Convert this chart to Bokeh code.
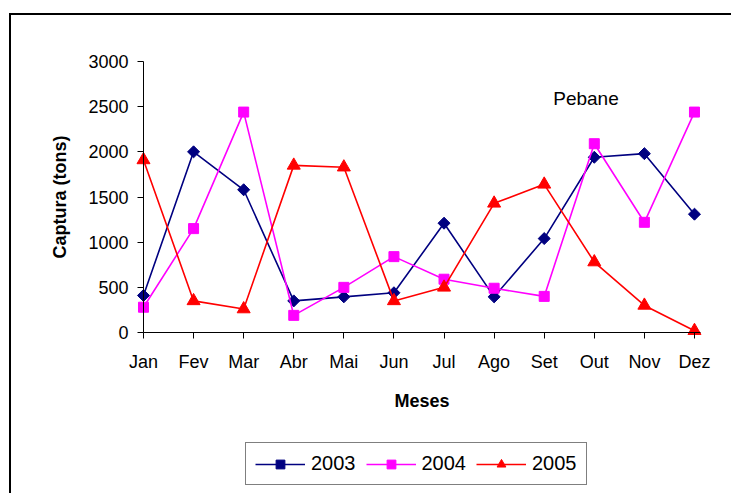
import numpy as np
from bokeh.plotting import figure
from bokeh.models import Range1d, FixedTicker, Legend, LegendItem, Label
from bokeh.embed import file_html
from bokeh.resources import INLINE

months = ["Jan", "Fev", "Mar", "Abr", "Mai", "Jun", "Jul", "Ago", "Set", "Out", "Nov", "Dez"]
y2003 = [410, 2000, 1580, 350, 395, 440, 1210, 395, 1040, 1940, 1980, 1310]
y2004 = [280, 1150, 2440, 190, 500, 840, 590, 490, 400, 2090, 1220, 2440]
y2005 = [1910, 350, 260, 1850, 1830, 350, 500, 1430, 1640, 780, 300, 20]
y_ticks = [0, 500, 1000, 1500, 2000, 2500, 3000]
series_labels = ["2003", "2004", "2005"]
site_name = "Pebane"
x_title = "Meses"
y_title = "Captura (tons)"

FONT = "Liberation Sans"
x = list(range(len(months)))

p = figure(width=722, height=480, output_backend="svg", toolbar_location=None,
           x_range=Range1d(-2.635, 11.779), y_range=Range1d(-1804, 3509),
           min_border_left=0, min_border_right=0, min_border_top=0, min_border_bottom=0,
           styles={"margin-left": "9px", "margin-top": "13px",
                   "border-left": "2px solid #000", "border-top": "2px solid #000"})
p.outline_line_color = None
p.grid.grid_line_color = None
p.background_fill_color = "white"
p.border_fill_color = "white"

p.xaxis.ticker = FixedTicker(ticks=x)
p.xaxis.major_label_overrides = {i: m for i, m in enumerate(months)}
p.xaxis.fixed_location = 0
p.xaxis.bounds = (0, 11.12)
p.yaxis.ticker = FixedTicker(ticks=y_ticks)
p.yaxis.fixed_location = 0
p.yaxis.bounds = (0, 3000)
for ax in (p.xaxis, p.yaxis):
    ax.axis_line_color = "black"
    ax.major_tick_line_color = "black"
    ax.minor_tick_line_color = None
    ax.major_tick_out = 6
    ax.major_tick_in = 0
    ax.major_label_text_font = FONT
    ax.major_label_text_font_size = "18px"
    ax.major_label_text_color = "black"
p.yaxis.major_label_standoff = 9
p.xaxis.major_label_standoff = 13

l1 = p.line(x, y2003, line_color="#000080", line_width=1.6)
m1 = p.scatter(x, y2003, marker="square", angle=np.pi / 4, size=8.5,
               fill_color="#000080", line_color="#000080")
l2 = p.line(x, y2004, line_color="#FF00FF", line_width=1.6)
m2 = p.scatter(x, y2004, marker="square", size=10,
               fill_color="#FF00FF", line_color="#FF00FF")
l3 = p.line(x, y2005, line_color="#FF0000", line_width=1.6)
m3 = p.scatter(x, y2005, marker="triangle", size=13,
               fill_color="#FF0000", line_color="#FF0000")

legend = Legend(items=[LegendItem(label=series_labels[0], renderers=[l1, m1]),
                       LegendItem(label=series_labels[1], renderers=[l2, m2]),
                       LegendItem(label=series_labels[2], renderers=[l3, m3])],
                orientation="horizontal", location=(234, 10),
                border_line_color="black", border_line_width=1,
                background_fill_color="white", background_fill_alpha=1,
                label_text_font=FONT, label_text_font_size="20px", label_text_color="black",
                glyph_width=50, glyph_height=22, label_standoff=6, spacing=10,
                padding=9, margin=0)
p.add_layout(legend, "center")

p.add_layout(Label(x=8.18, y=2590, text=site_name, text_font=FONT,
                   text_font_size="19px", text_color="black", text_baseline="alphabetic"))
p.add_layout(Label(x=5.56, y=-753, text=x_title, text_font=FONT, text_font_style="bold",
                   text_font_size="18px", text_color="black",
                   text_align="center", text_baseline="middle"))
p.add_layout(Label(x=-1.66, y=1500, text=y_title, text_font=FONT, text_font_style="bold",
                   text_font_size="18px", text_color="black", angle=np.pi / 2,
                   text_align="center", text_baseline="middle"))

open("out.html", "w").write(file_html(p, INLINE))
